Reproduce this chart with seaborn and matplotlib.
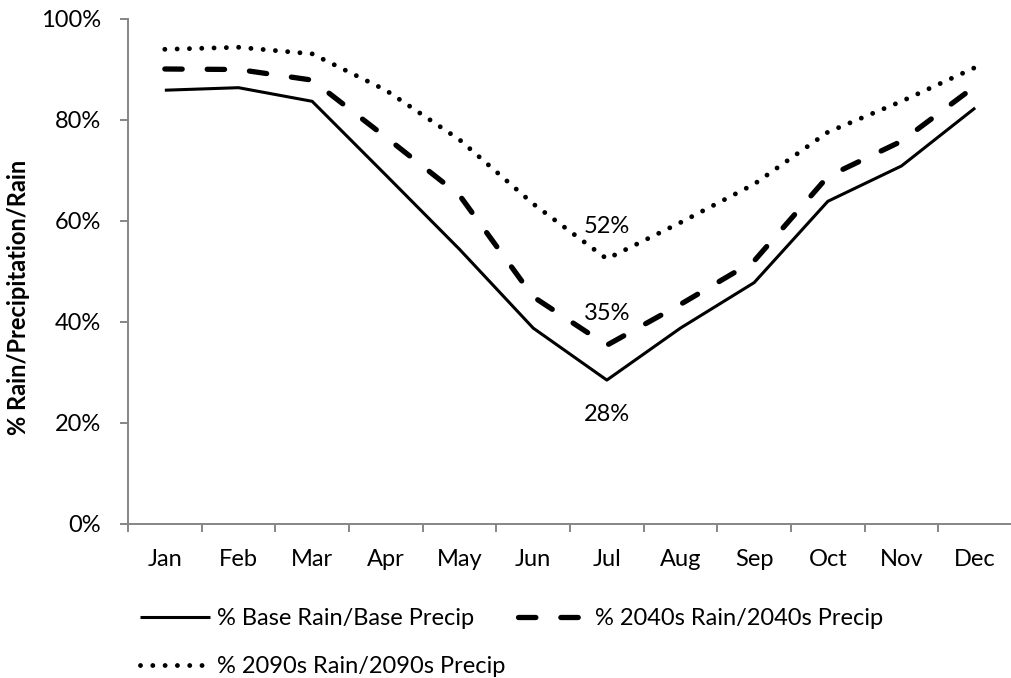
import numpy as np
import pandas as pd
import matplotlib
matplotlib.use("Agg")
import matplotlib.pyplot as plt
import seaborn as sns

# Monthly share of precipitation falling as rain (%)
months = ["Jan", "Feb", "Mar", "Apr", "May", "Jun",
          "Jul", "Aug", "Sep", "Oct", "Nov", "Dec"]
base_pct = [85.8, 86.3, 83.6, 69.0, 54.3, 38.7, 28.4, 38.7, 47.7, 63.8, 70.8, 82.3]
pct_2040s = [90.0, 89.9, 87.8, 76.5, 65.0, 44.9, 35.3, 43.4, 52.0, 68.7, 75.7, 86.6]
pct_2090s = [93.9, 94.3, 93.0, 85.8, 76.0, 63.3, 52.4, 59.6, 67.2, 77.5, 83.6, 90.3]
series_names = ["% Base Rain/Base Precip",
                "% 2040s Rain/2040s Precip",
                "% 2090s Rain/2090s Precip"]
y_ticks = [0, 20, 40, 60, 80, 100]
labelled_month = "Jul"

sns.set_theme(style="white")
plt.rcParams["font.family"] = ["Lato", "DejaVu Sans"]
plt.rcParams["lines.scale_dashes"] = False
plt.rcParams["text.color"] = "black"
plt.rcParams["axes.labelcolor"] = "black"

FS = 17
GREY = "#868686"

df = pd.DataFrame({
    "month": months * 3,
    "pos": list(range(len(months))) * 3,
    "value": base_pct + pct_2040s + pct_2090s,
    "series": np.repeat(series_names, len(months)),
})

fig = plt.figure(figsize=(10.12, 6.78), dpi=100)
ax = fig.add_axes([128 / 1012, 1 - 523.5 / 678, 884 / 1012, 505 / 678])

line_styles = {
    series_names[0]: dict(lw=2.2, linestyle="-", solid_capstyle="butt"),
    series_names[1]: dict(lw=3.8, linestyle=(0, (12.5, 18.0)), dash_capstyle="round"),
    series_names[2]: dict(lw=3.5, linestyle=(0, (0.01, 8.85)), dash_capstyle="round"),
}
handles = {}
for name in series_names:
    sub = df[df["series"] == name]
    sns.lineplot(data=sub, x="pos", y="value", ax=ax, color="black",
                 errorbar=None, label=name, **line_styles[name])
    handles[name] = ax.get_lines()[-1]
ax.get_legend().remove()

# axes
ax.set_xlim(-0.5, len(months) - 0.5)
ax.set_ylim(0, 100)
ax.set_xticks(range(len(months)))
ax.set_xticklabels(months)
ax.set_xticks(np.arange(-0.5, len(months), 1.0), minor=True)
ax.set_yticks(y_ticks)
ax.set_yticklabels([f"{t}%" for t in y_ticks])
ax.tick_params(axis="x", which="major", length=0, pad=18, labelsize=FS, colors="black")
ax.tick_params(axis="x", which="minor", length=5.5, width=1.4, color=GREY, direction="out", bottom=True)
ax.tick_params(axis="y", which="major", length=5.5, width=1.4, color=GREY, direction="out",
               pad=14, labelsize=FS, labelcolor="black", left=True)
for side in ["top", "right"]:
    ax.spines[side].set_visible(False)
for side in ["left", "bottom"]:
    ax.spines[side].set_color(GREY)
    ax.spines[side].set_linewidth(1.4)
ax.set_xlabel("")
ax.set_ylabel("% Rain/Precipitation/Rain", fontsize=FS, fontweight="bold")
ax.yaxis.set_label_coords((19 - 128) / 884, (523.5 - 297) / 505)
ax.yaxis.label.set_va("center")

# value labels at the July minimum
j = months.index(labelled_month)
for name, vals, dy in [(series_names[0], base_pct, -25),
                       (series_names[1], pct_2040s, 23),
                       (series_names[2], pct_2090s, 23)]:
    v = vals[j]
    ax.annotate(f"{v:.0f}%", xy=(j, v), xytext=(0, dy), textcoords="offset points",
                ha="center", va="center", fontsize=FS, color="black")

order = [series_names[0], series_names[2], series_names[1]]
fig.legend([handles[n] for n in order], order, ncol=2, loc="upper left",
           bbox_to_anchor=(140 / 1012, 1 - 608 / 678), frameon=False,
           borderpad=0, borderaxespad=0, handlelength=2.96, handletextpad=0.3,
           columnspacing=0.55, labelspacing=1.15, fontsize=FS)

fig.savefig("out.png", dpi=100, facecolor="white")
